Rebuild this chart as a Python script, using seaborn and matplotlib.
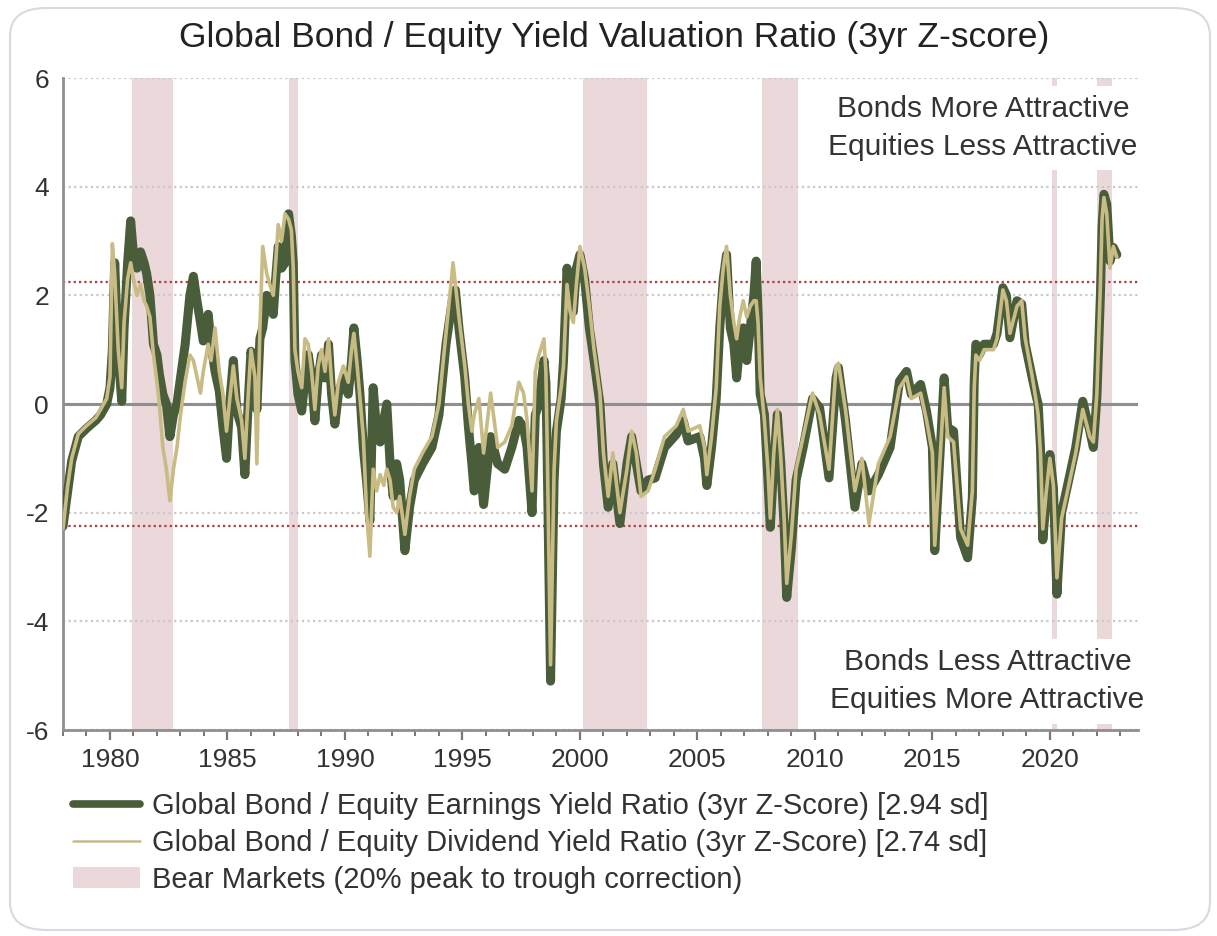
import matplotlib
matplotlib.use("Agg")
import matplotlib.pyplot as plt
from matplotlib.patches import FancyBboxPatch, Patch
from matplotlib.lines import Line2D
from matplotlib.ticker import MultipleLocator
import seaborn as sns
import pandas as pd

# ---------------- data ----------------
years = [
    1978.0, 1978.2, 1978.37, 1978.65, 1979.0, 1979.4, 1979.6, 1979.86, 1980.0, 1980.1,
    1980.2, 1980.35, 1980.5, 1980.6, 1980.75, 1980.88, 1981.0, 1981.15, 1981.3, 1981.45,
    1981.56, 1981.7, 1981.85, 1982.0, 1982.1, 1982.25, 1982.4, 1982.55, 1982.7, 1982.85,
    1983.0, 1983.2, 1983.4, 1983.55, 1983.7, 1983.85, 1983.97, 1984.18, 1984.3, 1984.47,
    1984.65, 1984.8, 1984.96, 1985.1, 1985.25, 1985.4, 1985.6, 1985.74, 1985.9, 1986.0,
    1986.17, 1986.25, 1986.38, 1986.5, 1986.67, 1986.8, 1986.95, 1987.05, 1987.16, 1987.3,
    1987.45, 1987.6, 1987.72, 1987.8, 1987.87, 1988.0, 1988.16, 1988.3, 1988.44, 1988.58,
    1988.72, 1988.86, 1989.0, 1989.15, 1989.3, 1989.43, 1989.57, 1989.72, 1989.93, 1990.14,
    1990.28, 1990.38, 1990.52, 1990.64, 1990.78, 1990.92, 1991.06, 1991.2, 1991.35, 1991.5,
    1991.65, 1991.78, 1991.92, 1992.05, 1992.2, 1992.33, 1992.55, 1992.75, 1992.95, 1993.3,
    1993.7, 1994.0, 1994.3, 1994.6, 1994.7, 1994.85, 1995.1, 1995.25, 1995.4, 1995.5,
    1995.7, 1995.9, 1996.2, 1996.5, 1996.8, 1997.1, 1997.4, 1997.6, 1997.75, 1997.96,
    1998.1, 1998.25, 1998.47, 1998.55, 1998.6, 1998.75, 1998.9, 1999.0, 1999.2, 1999.3,
    1999.45, 1999.58, 1999.72, 1999.85, 2000.0, 2000.2, 2000.4, 2000.6, 2000.85, 2001.0,
    2001.2, 2001.4, 2001.7, 2002.0, 2002.2, 2002.4, 2002.6, 2002.9, 2003.2, 2003.6,
    2004.1, 2004.4, 2004.6, 2005.1, 2005.3, 2005.4, 2005.6, 2005.8, 2005.95, 2006.1,
    2006.24, 2006.4, 2006.55, 2006.67, 2006.8, 2006.95, 2007.1, 2007.25, 2007.4, 2007.5,
    2007.58, 2007.67, 2007.85, 2008.0, 2008.1, 2008.25, 2008.4, 2008.55, 2008.7, 2008.8,
    2009.0, 2009.2, 2009.5, 2009.9, 2010.2, 2010.6, 2010.9, 2011.0, 2011.3, 2011.7,
    2012.0, 2012.3, 2012.7, 2013.2, 2013.6, 2013.9, 2014.1, 2014.5, 2014.75, 2015.0,
    2015.1, 2015.3, 2015.5, 2015.65, 2015.9, 2016.2, 2016.5, 2016.7, 2016.78, 2016.85,
    2017.0, 2017.2, 2017.6, 2017.75, 2018.0, 2018.15, 2018.3, 2018.6, 2018.8, 2018.95,
    2019.25, 2019.4, 2019.5, 2019.6, 2019.7, 2019.85, 2020.0, 2020.15, 2020.3, 2020.5,
    2020.8, 2021.1, 2021.4, 2021.7, 2021.85, 2022.0, 2022.08, 2022.15, 2022.22, 2022.3,
    2022.42, 2022.56, 2022.7, 2022.85,
]

earnings_z = [
    -2.25, -1.6, -1.05, -0.6, -0.45, -0.3, -0.2, 0.0, 0.3, 1.0,
    2.6, 0.9, 0.05, 1.4, 2.6, 3.37, 2.75, 2.5, 2.8, 2.6,
    2.4, 2.0, 1.1, 0.9, 0.55, 0.18, 0.0, -0.6, -0.2, 0.0,
    0.48, 1.1, 2.0, 2.35, 1.9, 1.5, 1.16, 1.65, 1.1, 0.6,
    0.24, -0.4, -1.0, 0.05, 0.8, -0.13, -0.43, -1.3, 0.18, 0.97,
    0.48, -0.1, 1.2, 1.4, 2.0, 1.9, 1.65, 2.3, 2.9, 2.5,
    2.6, 3.5, 3.1, 2.6, 0.8, 0.18, -0.13, 0.48, 0.91, 0.48,
    -0.31, 0.48, 0.9, 0.48, 1.1, 0.18, -0.37, 0.18, 0.48, 0.18,
    0.8, 1.4, 0.8, 0.18, -0.8, -1.42, -2.15, 0.3, -0.5, -0.7,
    -0.3, 0.0, -1.1, -1.7, -1.1, -1.4, -2.7, -1.9, -1.4, -1.1,
    -0.8, -0.2, 1.1, 2.0, 2.1, 1.4, 0.48, -0.4, -1.1, -1.6,
    -0.8, -1.85, -0.6, -1.1, -1.2, -0.8, -0.3, -0.43, -0.8, -2.0,
    -0.2, 0.0, 0.8, 0.4, -0.8, -5.1, -1.4, -0.5, 0.1, 0.8,
    2.5, 2.0, 1.7, 2.5, 2.75, 2.3, 1.4, 0.8, 0.0, -1.1,
    -1.9, -1.1, -2.2, -1.1, -0.6, -1.1, -1.6, -1.4, -1.36, -0.8,
    -0.56, -0.31, -0.68, -0.6, -1.0, -1.5, -0.8, 0.1, 1.4, 2.3,
    2.75, 1.4, 1.1, 0.48, 1.1, 1.4, 0.8, 1.4, 2.0, 2.63,
    1.7, 0.18, -0.19, -1.4, -2.27, -1.1, -0.19, -1.1, -2.34, -3.56,
    -2.64, -1.4, -0.8, 0.1, -0.07, -1.36, 0.48, 0.67, -0.3, -1.9,
    -1.1, -1.6, -1.3, -0.8, 0.42, 0.6, 0.18, 0.36, -0.13, -0.8,
    -2.7, -1.1, 0.48, -0.43, -0.5, -2.46, -2.83, -1.72, 0.42, 1.1,
    0.91, 1.1, 1.1, 1.3, 2.14, 2.0, 1.22, 1.9, 1.84, 1.1,
    0.48, 0.18, 0.0, -0.8, -2.5, -1.7, -0.93, -1.54, -3.5, -2.0,
    -1.4, -0.8, 0.05, -0.5, -0.8, 0.12, 1.1, 2.0, 3.25, 3.86,
    3.68, 2.63, 2.88, 2.75,
]

dividend_z = [
    -2.3, -1.5, -1.0, -0.55, -0.4, -0.25, -0.1, 0.1, 0.5, 2.95,
    2.4, 1.0, 0.3, 1.5, 2.3, 2.6, 2.3, 2.0, 2.2, 1.9,
    1.8, 1.6, 0.9, 0.4, 0.0, -0.8, -1.2, -1.78, -1.2, -0.8,
    -0.2, 0.42, 0.9, 0.8, 0.5, 0.2, 0.6, 1.1, 0.8, 1.4,
    0.6, 0.2, -0.5, 0.1, 0.7, 0.1, -0.3, -1.0, 0.3, 1.0,
    0.5, -1.1, 1.4, 2.9, 2.4, 2.2, 2.0, 2.6, 3.3, 3.0,
    3.5, 3.4, 3.2, 2.5, 1.0, 0.6, 0.3, 1.2, 1.1, 0.6,
    -0.1, 0.7, 1.0, 0.6, 1.2, 0.4, -0.2, 0.4, 0.7, 0.4,
    1.0, 1.3, 0.7, 0.1, -0.6, -2.0, -2.8, -1.2, -1.6, -1.3,
    -1.5, -1.2, -1.4, -1.9, -2.0, -1.7, -2.4, -1.7, -1.2, -0.9,
    -0.6, 0.0, 1.3, 2.6, 2.2, 1.6, 0.7, 0.0, -0.5, -0.2,
    0.1, -0.9, 0.2, -0.8, -0.7, -0.4, 0.4, 0.2, -0.3, -1.6,
    0.6, 0.9, 1.2, 0.6, -0.6, -4.8, -1.2, -0.3, 0.3, 0.7,
    2.2, 1.7, 1.5, 2.2, 2.9, 2.5, 1.8, 1.0, 0.2, -0.9,
    -1.7, -0.9, -2.0, -1.2, -0.5, -0.9, -1.7, -1.6, -1.2, -0.6,
    -0.4, -0.1, -0.5, -0.4, -0.8, -1.3, -0.6, 0.3, 1.8, 2.5,
    2.9, 2.0, 1.5, 1.2, 1.6, 1.9, 1.6, 1.8, 1.9, 1.9,
    1.5, 0.5, -0.3, -1.2, -2.1, -0.9, -0.1, -1.0, -2.2, -3.3,
    -2.4, -1.2, -0.6, 0.2, -0.2, -1.2, 0.7, 0.75, -0.1, -1.6,
    -1.0, -2.2, -1.1, -0.6, 0.3, 0.5, 0.1, 0.2, -0.3, -0.9,
    -2.6, -1.2, 0.3, -0.6, -0.7, -2.3, -2.6, -1.6, 0.3, 0.9,
    0.8, 1.0, 1.0, 1.2, 2.1, 1.9, 1.3, 1.8, 1.9, 1.2,
    0.5, 0.1, -0.2, -0.9, -2.3, -1.6, -1.0, -1.5, -3.2, -2.1,
    -1.5, -0.9, -0.1, -0.6, -0.7, 0.2, 1.3, 2.2, 3.4, 3.8,
    3.5, 2.5, 2.9, 2.7,
]

bear_start = [1980.95, 1987.6, 2000.15, 2007.75, 2020.1, 2022.0]
bear_end = [1982.7, 1988.0, 2002.85, 2009.3, 2020.3, 2022.65]

threshold = 2.25

title = "Global Bond / Equity Yield Valuation Ratio (3yr Z-score)"
label_earn = "Global Bond / Equity Earnings Yield Ratio (3yr Z-Score) [2.94 sd]"
label_div = "Global Bond / Equity Dividend Yield Ratio (3yr Z-Score) [2.74 sd]"
label_bear = "Bear Markets (20% peak to trough correction)"
note_top = "Bonds More Attractive\nEquities Less Attractive"
note_bottom = "Bonds Less Attractive\nEquities More Attractive"

# ---------------- styling ----------------
GREEN = "#4a5d3a"
TAN = "#c9bb84"
PINK = "#ead8da"
RED = "#b33a3a"

sns.set_theme(style="white")
plt.rcParams["font.family"] = ["Liberation Sans", "DejaVu Sans"]

W, H = 1217, 936
fig = plt.figure(figsize=(W / 100, H / 100), dpi=100)
fig.patch.set_facecolor("white")

# rounded outer frame
frame = FancyBboxPatch((10 / W, 6 / H), (1200) / W, (922) / H,
                       boxstyle="round,pad=0,rounding_size=0.03",
                       transform=fig.transFigure, facecolor="white",
                       edgecolor="#d5dbe2", linewidth=1.5, zorder=-10)
fig.patches.append(frame)

ax = fig.add_axes([63 / W, 1 - 730 / H, (1138 - 63) / W, (730 - 78) / H])
ax.set_facecolor("none")

df = pd.DataFrame({"year": years, "earn": earnings_z, "div": dividend_z})

for s, e in zip(bear_start, bear_end):
    ax.axvspan(s, e, color=PINK, lw=0, zorder=0.5)

ax.axhline(0, color="#8f8f8f", lw=2.2, zorder=1)
for t in (threshold, -threshold):
    ax.axhline(t, color=RED, lw=1.6, ls=(0, (1, 1.4)), zorder=1)

sns.lineplot(data=df, x="year", y="earn", ax=ax, color=GREEN, lw=6.5,
             estimator=None, sort=False, zorder=3, legend=False)
sns.lineplot(data=df, x="year", y="div", ax=ax, color=TAN, lw=2.6,
             estimator=None, sort=False, zorder=4, legend=False)

ax.set_xlim(1978.0, 2023.75)
ax.set_ylim(-6, 6)
ax.set_xlabel("")
ax.set_ylabel("")
ax.yaxis.set_major_locator(MultipleLocator(2))
ax.xaxis.set_major_locator(MultipleLocator(5))
ax.xaxis.set_minor_locator(MultipleLocator(1))

ax.yaxis.grid(True, linestyle=(0, (1, 1.5)), color="#c8c8c8", lw=1.6, zorder=0)
ax.xaxis.grid(False)
ax.set_axisbelow(True)

for side in ("top", "right"):
    ax.spines[side].set_visible(False)
for side in ("left", "bottom"):
    ax.spines[side].set_color("#8f8f8f")
    ax.spines[side].set_linewidth(2)

ax.tick_params(axis="y", length=0, pad=10, labelsize=19, labelcolor="#333333")
ax.tick_params(axis="x", which="major", direction="out", length=7, width=1.6,
               color="#777777", pad=6, labelsize=19, labelcolor="#333333", bottom=True)
ax.tick_params(axis="x", which="minor", direction="out", length=4, width=1.4,
               color="#777777", bottom=True)
ax.set_yticks([-6, -4, -2, 0, 2, 4, 6])
ax.set_yticklabels(["-6", "-4", "-2", "0", "2", "4", "6"])

box = dict(facecolor="white", edgecolor="none", pad=7)
ax.text(2017.15, 5.08, note_top, ha="center", va="center", fontsize=21.5,
        color="#333333", linespacing=1.42, bbox=box, zorder=6, clip_on=False)
ax.text(2017.35, -5.1, note_bottom, ha="center", va="center", fontsize=21.5,
        color="#333333", linespacing=1.42, bbox=box, zorder=6, clip_on=False)

fig.text(614 / W, 1 - 38 / H, title, ha="center", va="center", fontsize=25.5,
         color="#222222")

handles = [
    Line2D([], [], color=GREEN, lw=5.5),
    Line2D([], [], color=TAN, lw=1.8),
    Patch(facecolor=PINK, edgecolor="none"),
]
fig.legend(handles, [label_earn, label_div, label_bear], loc="upper left",
           bbox_to_anchor=(73 / W, 1 - 792 / H), frameon=False, fontsize=21,
           handlelength=2.3, handletextpad=0.4, labelspacing=0.3,
           borderpad=0, borderaxespad=0, labelcolor="#333333")

fig.savefig("out.png", dpi=100, facecolor="white")
